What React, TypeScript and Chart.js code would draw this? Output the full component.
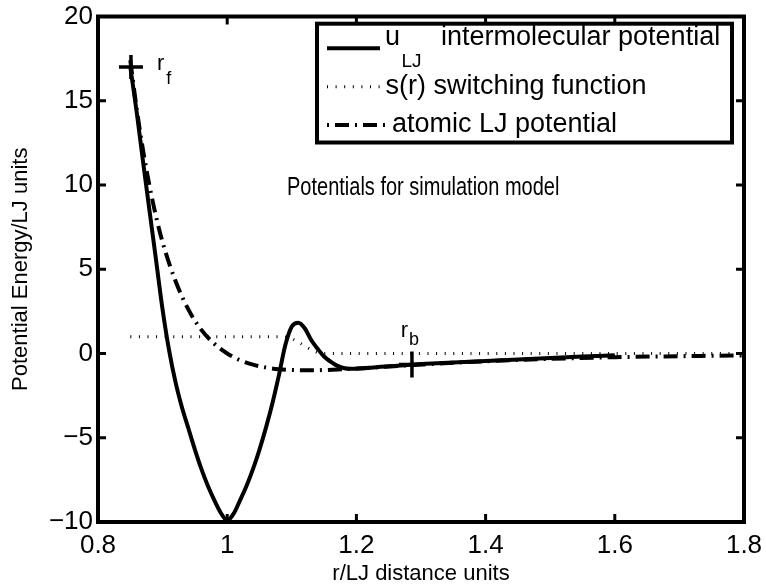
import React, { useEffect, useRef } from 'react';
import { Chart, registerables } from 'chart.js';

Chart.register(...registerables);

// ---- data ----
const rU = [0.85, 0.86, 0.87, 0.88, 0.89, 0.9, 0.91, 0.92, 0.93, 0.94, 0.95, 0.96, 0.97, 0.98, 0.99, 1.0, 1.01, 1.02, 1.03, 1.04, 1.05, 1.06, 1.07, 1.08, 1.09, 1.1, 1.11, 1.12, 1.13, 1.14, 1.15, 1.16, 1.17, 1.18, 1.19, 1.2, 1.25, 1.3, 1.35, 1.4, 1.45, 1.5, 1.55, 1.6];
const uLJ = [17.0, 14.3, 11.3, 8.4, 5.5, 2.6, 0.2, -1.7, -3.2, -4.45, -5.7, -6.85, -7.85, -8.7, -9.45, -9.9, -9.5, -8.7, -7.85, -6.85, -5.7, -4.4, -2.95, -1.3, 0.5, 1.6, 1.83, 1.5, 0.8, 0.28, -0.18, -0.48, -0.72, -0.86, -0.91, -0.9, -0.76, -0.63, -0.53, -0.44, -0.35, -0.27, -0.18, -0.1];

const rS = [0.85, 1.08, 1.09, 1.1, 1.11, 1.12, 1.13, 1.14, 1.15, 1.8];
const sSwitch = [1, 1, 0.98, 0.88, 0.68, 0.45, 0.22, 0.06, 0, 0];

const rA = [0.85, 0.86, 0.87, 0.88, 0.89, 0.9, 0.92, 0.94, 0.96, 0.98, 1.0, 1.02, 1.04, 1.06, 1.08, 1.1, 1.12, 1.15, 1.2, 1.25, 1.3, 1.35, 1.4, 1.5, 1.6, 1.7, 1.8];
const uAtomic = [17.4, 14.5, 12.0, 9.9, 8.1, 6.6, 4.3, 2.6, 1.4, 0.58, 0, -0.4, -0.66, -0.83, -0.93, -0.98, -1.0, -0.98, -0.89, -0.77, -0.66, -0.55, -0.46, -0.32, -0.22, -0.16, -0.11];

const markerR = [0.851, 1.286];
const markerU = [17, -0.66];

const xTickVals = [0.8, 1.0, 1.2, 1.4, 1.6, 1.8];
const xTickLabels = ['0.8', '1', '1.2', '1.4', '1.6', '1.8'];
const yTickVals = [-10, -5, 0, 5, 10, 15, 20];
const yTickLabels = ['\u221210', '\u22125', '0', '5', '10', '15', '20'];

const xTitle = 'r/LJ distance units';
const yTitle = 'Potential Energy/LJ units';
const plotNote = 'Potentials for simulation model';

const FAMILY = '"Liberation Sans", Arial, Helvetica, sans-serif';
const FS = 26;
const FS_TITLE = 22;
const FS_NOTE = 20;
const FS_LEG = 27;

const pts = (xs: number[], ys: number[]) => xs.map((x, i) => ({ x, y: ys[i] }));

const overlay = {
  id: 'overlay',
  afterDatasetsDraw(chart: any) {
    const { ctx, chartArea: a, scales } = chart;
    const x = scales.x;
    const y = scales.y;
    ctx.save();
    // axes box
    ctx.strokeStyle = '#000';
    ctx.lineWidth = 4;
    ctx.setLineDash([]);
    ctx.strokeRect(a.left, a.top, a.right - a.left, a.bottom - a.top);
    // inward ticks on all sides
    ctx.lineWidth = 3;
    ctx.beginPath();
    xTickVals.slice(1, -1).forEach((v) => {
      const px = x.getPixelForValue(v);
      ctx.moveTo(px, a.bottom);
      ctx.lineTo(px, a.bottom - 8);
      ctx.moveTo(px, a.top);
      ctx.lineTo(px, a.top + 8);
    });
    yTickVals.slice(1, -1).forEach((v) => {
      const py = y.getPixelForValue(v);
      ctx.moveTo(a.left, py);
      ctx.lineTo(a.left + 8, py);
      ctx.moveTo(a.right, py);
      ctx.lineTo(a.right - 8, py);
    });
    ctx.stroke();

    ctx.fillStyle = '#000';
    ctx.textAlign = 'left';
    ctx.textBaseline = 'alphabetic';
    const text = (s: string, size: number, px: number, py: number, sy = 1) => {
      ctx.save();
      ctx.font = `${size}px ${FAMILY}`;
      ctx.translate(px, py);
      ctx.scale(1, sy);
      ctx.fillText(s, 0, 0);
      ctx.restore();
    };
    // annotations (data coordinates)
    text(plotNote, FS_NOTE, x.getPixelForValue(1.0926), y.getPixelForValue(9.4), 1.3);
    text('r', 22, x.getPixelForValue(0.8915), y.getPixelForValue(16.83));
    text('f', 18, x.getPixelForValue(0.9055), y.getPixelForValue(16.0));
    text('r', 22, x.getPixelForValue(1.2688), y.getPixelForValue(0.95));
    text('b', 18, x.getPixelForValue(1.2815), y.getPixelForValue(0.52));

    // legend
    const bx = 317, by = 23.7, bw = 415, bh = 118.8;
    ctx.fillStyle = '#fff';
    ctx.fillRect(bx, by, bw, bh);
    ctx.strokeStyle = '#000';
    ctx.lineWidth = 4;
    ctx.strokeRect(bx, by, bw, bh);
    const rows = [48.3, 86.7, 125];
    ctx.lineCap = 'butt';
    ctx.lineWidth = 4;
    ctx.setLineDash([]);
    ctx.beginPath();
    ctx.moveTo(327, rows[0]);
    ctx.lineTo(380, rows[0]);
    ctx.stroke();
    ctx.lineWidth = 3;
    ctx.setLineDash([1, 7.6]);
    ctx.beginPath();
    ctx.moveTo(327, rows[1]);
    ctx.lineTo(382, rows[1]);
    ctx.stroke();
    ctx.lineWidth = 4;
    ctx.setLineDash([2, 6, 14, 6]);
    ctx.beginPath();
    ctx.moveTo(327, rows[2]);
    ctx.lineTo(387, rows[2]);
    ctx.stroke();
    ctx.setLineDash([]);
    ctx.fillStyle = '#000';
    text('u', FS_LEG, 385, 45);
    text('LJ', 19, 401.5, 66.5);
    text('intermolecular potential', FS_LEG, 441, 45);
    text('s(r) switching function', FS_LEG, 385.5, 93.7);
    text('atomic LJ potential', FS_LEG, 392, 132);
    ctx.restore();
  },
};

export default function App() {
  const ref = useRef<HTMLCanvasElement | null>(null);

  useEffect(() => {
    if (!ref.current) return;
    const font = { family: FAMILY, size: FS };
    const titleFont = { family: FAMILY, size: FS_TITLE };
    const chart = new Chart(ref.current, {
      type: 'scatter',
      data: {
        datasets: [
          {
            label: 'u_LJ intermolecular potential',
            data: pts(rU, uLJ),
            showLine: true,
            borderColor: '#000',
            borderWidth: 4,
            pointRadius: 0,
            cubicInterpolationMode: 'monotone',
            fill: false,
          },
          {
            label: 's(r) switching function',
            data: pts(rS, sSwitch),
            showLine: true,
            borderColor: '#000',
            borderWidth: 3,
            borderDash: [1, 7.6],
            borderCapStyle: 'butt',
            pointRadius: 0,
            cubicInterpolationMode: 'monotone',
            fill: false,
          },
          {
            label: 'atomic LJ potential',
            data: pts(rA, uAtomic),
            showLine: true,
            borderColor: '#000',
            borderWidth: 4,
            borderDash: [14, 6, 2, 6],
            borderCapStyle: 'butt',
            pointRadius: 0,
            cubicInterpolationMode: 'monotone',
            fill: false,
          },
          {
            label: 'markers',
            data: pts(markerR, markerU),
            showLine: false,
            pointStyle: 'cross',
            pointRadius: [12, 13],
            pointBorderWidth: 3.5,
            pointBorderColor: '#000',
            borderColor: '#000',
          },
        ],
      } as any,
      options: {
        animation: false,
        responsive: false,
        maintainAspectRatio: false,
        devicePixelRatio: 1,
        layout: { padding: { top: 13, right: 22, bottom: 0, left: 0 } },
        plugins: { legend: { display: false }, tooltip: { enabled: false } },
        scales: {
          x: {
            type: 'linear',
            min: 0.8,
            max: 1.8,
            afterBuildTicks: (s: any) => {
              s.ticks = xTickVals.map((v) => ({ value: v }));
            },
            afterFit: (s: any) => {
              s.height = 63;
              s.paddingLeft = 0;
              s.paddingRight = 0;
            },
            ticks: {
              callback: (_v: any, i: number) => xTickLabels[i],
              font,
              color: '#000',
              padding: 8,
              maxRotation: 0,
              autoSkip: false,
            },
            grid: { display: false, drawTicks: false },
            border: { display: false },
            title: { display: true, text: xTitle, font: titleFont, color: '#000', padding: { top: 0, bottom: -2 } },
          },
          y: {
            type: 'linear',
            min: -10,
            max: 20,
            afterBuildTicks: (s: any) => {
              s.ticks = yTickVals.map((v) => ({ value: v }));
            },
            afterFit: (s: any) => {
              s.width = 98;
              s.paddingTop = 0;
              s.paddingBottom = 0;
            },
            ticks: {
              callback: (_v: any, i: number) => yTickLabels[i],
              font,
              color: '#000',
              padding: 5,
              autoSkip: false,
            },
            grid: { display: false, drawTicks: false },
            border: { display: false },
            title: { display: true, text: yTitle, font: titleFont, color: '#000', padding: { top: 8, bottom: 0 } },
          },
        },
      } as any,
      plugins: [overlay],
    });
    return () => chart.destroy();
  }, []);

  return (
    <div style={{ position: 'fixed', left: 0, top: 0, width: 766, height: 585, background: '#fff' }}>
      <canvas ref={ref} width={766} height={585} style={{ display: 'block', width: 766, height: 585 }} />
    </div>
  );
}
